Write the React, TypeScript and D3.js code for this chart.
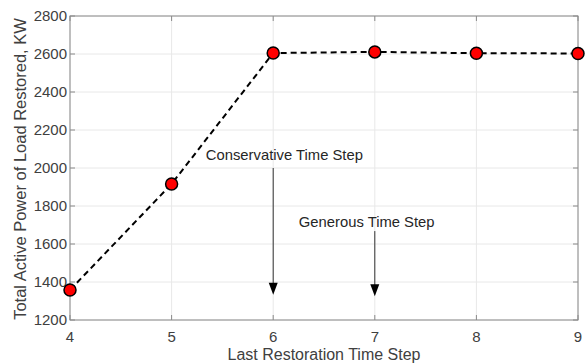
import React from 'react';
import * as d3 from 'd3';

// last restoration time step vs total restored load
const steps = [4, 5, 6, 7, 8, 9];
const loadKW = [1358, 1916, 2605, 2611, 2604, 2603];
const yTicks = [1200, 1400, 1600, 1800, 2000, 2200, 2400, 2600, 2800];

const notes = [
  { label: 'Conservative Time Step', tx: 6.11, ty: 2042, x: 6, from: 2000, to: 1333 },
  { label: 'Generous Time Step', tx: 6.92, ty: 1689, x: 7, from: 1668, to: 1325 },
];

const W = 585, H = 364;
const margin = { top: 16, right: 7, bottom: 44, left: 70 };
const font = '"Liberation Sans", Arial, sans-serif';

const App: React.FC = () => {
  const x = d3.scaleLinear().domain([4, 9]).range([margin.left, W - margin.right]);
  const y = d3.scaleLinear().domain([1200, 2800]).range([H - margin.bottom, margin.top]);
  const pts = steps.map((s, i) => [s, loadKW[i]] as [number, number]);
  const line = d3.line<[number, number]>().x(d => x(d[0])).y(d => y(d[1]));
  const x0 = x.range()[0], x1 = x.range()[1];
  const y0 = y.range()[0], y1 = y.range()[1];

  return (
    <svg width={W} height={H} style={{ position: 'absolute', left: 0, top: 0, background: '#fff' }}>
      {/* grid */}
      {steps.map(s => (
        <line key={'gx' + s} x1={x(s)} x2={x(s)} y1={y0} y2={y1} stroke="#e8e8e8" />
      ))}
      {yTicks.map(t => (
        <line key={'gy' + t} x1={x0} x2={x1} y1={y(t)} y2={y(t)} stroke="#e8e8e8" />
      ))}
      {/* box + ticks */}
      <rect x={x0} y={y1} width={x1 - x0} height={y0 - y1} fill="none" stroke="#8a8a8a" />
      {steps.map(s => (
        <g key={'tx' + s}>
          <line x1={x(s)} x2={x(s)} y1={y0} y2={y0 - 5} stroke="#8a8a8a" />
          <line x1={x(s)} x2={x(s)} y1={y1} y2={y1 + 5} stroke="#8a8a8a" />
          <text x={x(s)} y={y0 + 22} textAnchor="middle" fontFamily={font} fontSize={15} fill="#404040">{s}</text>
        </g>
      ))}
      {yTicks.map(t => (
        <g key={'ty' + t}>
          <line x1={x0} x2={x0 + 5} y1={y(t)} y2={y(t)} stroke="#8a8a8a" />
          <line x1={x1} x2={x1 - 5} y1={y(t)} y2={y(t)} stroke="#8a8a8a" />
          <text x={x0 - 3} y={y(t) + 5} textAnchor="end" fontFamily={font} fontSize={15} fill="#404040">{t}</text>
        </g>
      ))}
      {/* axis labels */}
      <text x={(x0 + x1) / 2} y={H - 4} textAnchor="middle" fontFamily={font} fontSize={16} fill="#404040">
        Last Restoration Time Step
      </text>
      <text transform={`translate(26,${(y0 + y1) / 2 + 1}) rotate(-90)`} textAnchor="middle" fontFamily={font} fontSize={16.5} fill="#404040">
        Total Active Power of Load Restored, KW
      </text>
      {/* annotations */}
      {notes.map(n => (
        <g key={n.label}>
          <text x={x(n.tx)} y={y(n.ty)} textAnchor="middle" fontFamily={font} fontSize={14.8} fill="#262626">{n.label}</text>
          <line x1={x(n.x)} x2={x(n.x)} y1={y(n.from)} y2={y(n.to) - 10} stroke="#333" strokeWidth={1} />
          <path d={`M${x(n.x) - 4.5},${y(n.to) - 12} L${x(n.x) + 4.5},${y(n.to) - 12} L${x(n.x)},${y(n.to)} Z`} fill="#000" />
        </g>
      ))}
      {/* data */}
      <path d={line(pts) ?? ''} fill="none" stroke="#000" strokeWidth={2} strokeDasharray="6,4" />
      {pts.map(p => (
        <circle key={p[0]} cx={x(p[0])} cy={y(p[1])} r={6} fill="#ff0000" stroke="#000" strokeWidth={1.5} />
      ))}
    </svg>
  );
};

export default App;
